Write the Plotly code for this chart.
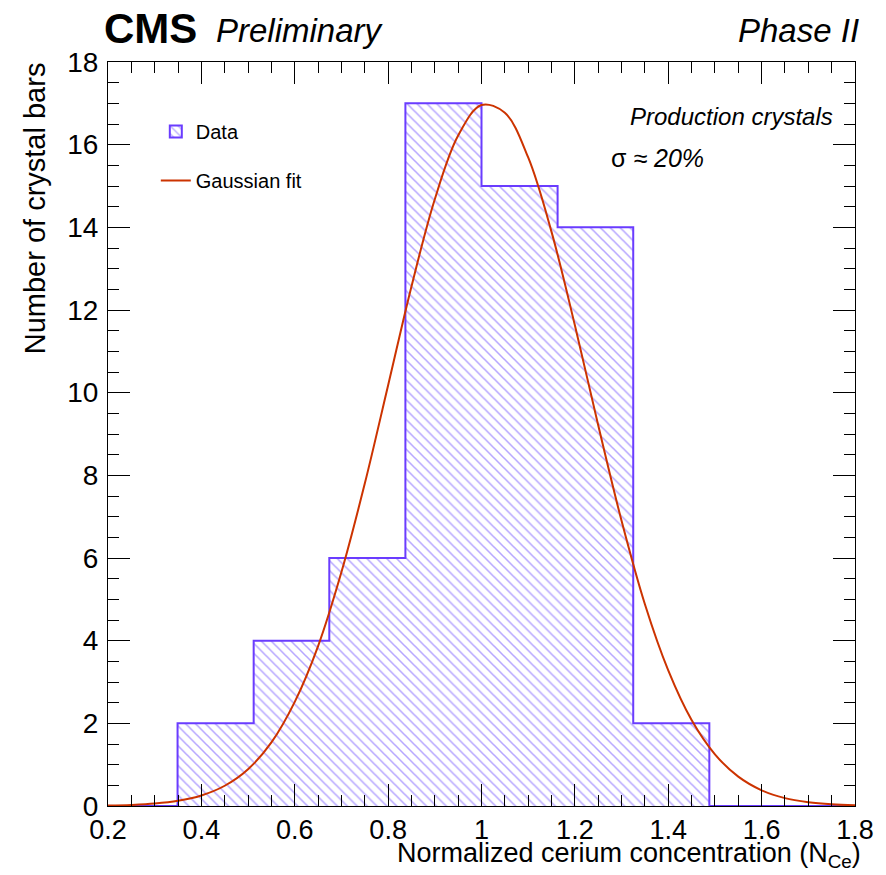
import plotly.graph_objects as go

# ---- data ----
bin_edges = [0.349, 0.512, 0.674, 0.837, 1.0, 1.163, 1.325, 1.488]
counts = [2, 4, 6, 17, 15, 14, 2]

fit_x = [0.20, 0.25, 0.30, 0.35, 0.40, 0.45, 0.50, 0.55, 0.60, 0.65, 0.70,
         0.75, 0.80, 0.85, 0.90, 0.95, 1.00, 1.05, 1.10, 1.15, 1.20, 1.25,
         1.30, 1.35, 1.40, 1.45, 1.50, 1.55, 1.60, 1.65, 1.70, 1.75, 1.80]
fit_y = [0.011, 0.026, 0.058, 0.125, 0.255, 0.49, 0.89, 1.54, 2.52, 3.87, 5.66,
         7.80, 10.18, 12.57, 14.68, 16.22, 16.96, 16.77, 15.69, 13.89, 11.63, 9.21,
         6.90, 4.88, 3.28, 2.08, 1.25, 0.71, 0.38, 0.19, 0.093, 0.042, 0.018]

x_range = [0.2, 1.8]
y_range = [0, 18]
x_ticks = [0.2, 0.4, 0.6, 0.8, 1.0, 1.2, 1.4, 1.6, 1.8]
x_ticklabels = ["0.2", "0.4", "0.6", "0.8", "1", "1.2", "1.4", "1.6", "1.8"]
y_ticks = [0, 2, 4, 6, 8, 10, 12, 14, 16, 18]

# ---- styles ----
FONT = "Liberation Sans, Arial, Helvetica, sans-serif"
HIST_LINE = "#6a3cff"
HATCH = "#6c4cff"
FIT_COLOR = "#cc3300"

centers = [(a + b) / 2 for a, b in zip(bin_edges[:-1], bin_edges[1:])]
widths = [b - a for a, b in zip(bin_edges[:-1], bin_edges[1:])]

step_x = [x_range[0]] + bin_edges + [x_range[1]]
step_y = [0] + counts + [0, 0]

pattern = dict(shape="\\", fgcolor=HATCH, bgcolor="white", size=7, solidity=0.22)

fig = go.Figure()

# hatched histogram body
fig.add_trace(go.Bar(
    x=centers, y=counts, width=widths,
    marker=dict(color="white", pattern=pattern, line=dict(width=0)),
    showlegend=False, hoverinfo="skip",
))
# histogram outline (ROOT-style step)
fig.add_trace(go.Scatter(
    x=step_x, y=step_y, mode="lines",
    line=dict(color=HIST_LINE, width=2, shape="hv"),
    showlegend=False, hoverinfo="skip",
))
# legend entry for data
fig.add_trace(go.Bar(
    x=[None], y=[None], name="Data",
    marker=dict(color="white", pattern=pattern, line=dict(color=HIST_LINE, width=2)),
    legendgroup="a",
))
# gaussian fit
fig.add_trace(go.Scatter(
    x=fit_x, y=fit_y, mode="lines", name="Gaussian fit",
    line=dict(color=FIT_COLOR, width=2, shape="spline"),
    legendgroup="b",
))

W, H = 886, 875
L, R, T, B = 108, 28, 62, 69
pw, ph = W - L - R, H - T - B


def px(xp):
    return (xp - L) / pw


def py(yp):
    return (H - B - yp) / ph


axis_common = dict(
    showline=True, linecolor="black", linewidth=1, mirror="allticks",
    ticks="inside", ticklen=22, tickwidth=1, tickcolor="black",
    showgrid=False, zeroline=False,
)

fig.update_xaxes(
    range=x_range, tickvals=x_ticks, ticktext=x_ticklabels,
    tickfont=dict(family=FONT, size=27, color="black"),
    minor=dict(ticks="inside", ticklen=11, tickcolor="black", dtick=0.05, showgrid=False),
    **axis_common,
)
fig.update_yaxes(
    range=y_range, tickvals=y_ticks, ticklabelstandoff=3,
    tickfont=dict(family=FONT, size=28, color="black"),
    minor=dict(ticks="inside", ticklen=11, tickcolor="black", dtick=0.5, showgrid=False),
    **axis_common,
)

annotations = [
    dict(text="<b>CMS</b>", x=px(102), y=py(28), xanchor="left", yanchor="middle",
         font=dict(family=FONT, size=42, color="black")),
    dict(text="<i>Preliminary</i>", x=px(214), y=py(31), xanchor="left", yanchor="middle",
         font=dict(family=FONT, size=33, color="black")),
    dict(text="<i>Phase II</i>", x=px(864), y=py(31), xanchor="right", yanchor="middle",
         font=dict(family=FONT, size=33, color="black")),
    dict(text="<i>Production crystals</i>", x=px(838), y=py(116), xanchor="right", yanchor="middle",
         font=dict(family=FONT, size=24, color="black")),
    dict(text="σ <i>≈ 20%</i>", x=px(611), y=py(158), xanchor="left", yanchor="middle",
         font=dict(family=FONT, size=25, color="black")),
    dict(text="Number of crystal bars", x=px(35), y=py(60), xanchor="center", yanchor="top",
         textangle=-90, font=dict(family=FONT, size=29, color="black")),
    dict(text="Normalized cerium concentration (N<sub>Ce</sub>)", x=px(866), y=py(874),
         xanchor="right", yanchor="bottom", font=dict(family=FONT, size=27, color="black")),
]
for a in annotations:
    a.update(xref="paper", yref="paper", showarrow=False)

fig.update_layout(
    width=W, height=H,
    margin=dict(l=L, r=R, t=T, b=B),
    paper_bgcolor="white", plot_bgcolor="white",
    barmode="overlay", bargap=0,
    annotations=annotations,
    legend=dict(
        x=px(156), y=py(112), xanchor="left", yanchor="top",
        bgcolor="rgba(0,0,0,0)", borderwidth=0,
        font=dict(family=FONT, size=20, color="black"),
        traceorder="grouped", tracegroupgap=20,
    ),
)

fig.write_html("out.html")
